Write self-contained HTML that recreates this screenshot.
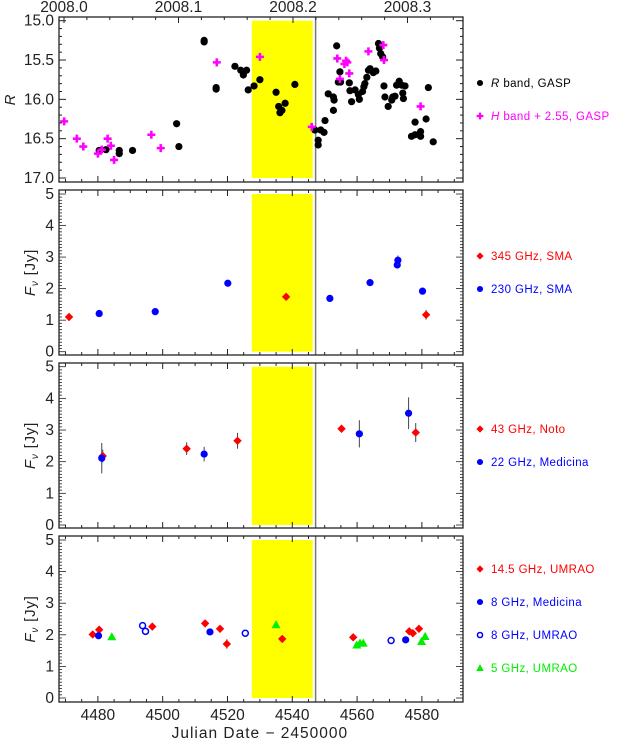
<!DOCTYPE html>
<html><head><meta charset="utf-8"><style>
body{margin:0;background:#fff;}
svg text{font-family:"Liberation Sans",sans-serif;}
</style></head><body>
<svg id="c" xmlns="http://www.w3.org/2000/svg" width="622" height="741" viewBox="0 0 622 741"></svg>
<script>
// ---- data ----
const rBandJD=[4480.4,4482.5,4486.6,4486.6,4490.7,4504.3,4505.0,4512.8,4512.8,4516.5,4516.5,4522.3,4524.1,4524.9,4525.9,4526.4,4528.2,4530.0,4535.0,4535.8,4536.2,4536.8,4537.8,4540.8,4547.0,4548.0,4548.0,4548.8,4549.8,4550.1,4551.1,4552.7,4552.7,4552.9,4553.7,4554.2,4554.7,4554.9,4557.6,4557.8,4558.3,4559.4,4560.4,4560.7,4561.7,4562.1,4562.4,4563.0,4563.5,4564.0,4565.0,4565.8,4566.6,4566.9,4567.3,4567.9,4568.3,4568.6,4569.6,4570.7,4571.0,4571.7,4572.2,4573.0,4573.8,4574.1,4574.3,4574.8,4576.8,4577.9,4577.9,4579.6,4579.6,4581.3,4582.0,4583.5];
const rBandMag=[16.65,16.64,16.69,16.65,16.65,16.31,16.60,15.25,15.27,15.85,15.87,15.58,15.63,15.69,15.63,15.88,15.83,15.75,15.91,16.09,16.17,16.14,16.05,15.81,16.39,16.52,16.58,16.39,16.42,16.27,15.93,15.97,16.14,16.01,15.32,15.78,15.65,15.78,15.79,15.89,16.03,15.88,15.94,16.00,15.90,15.84,15.80,15.72,15.63,15.61,15.66,15.64,15.29,15.35,15.42,15.46,15.83,15.97,16.09,16.01,15.97,15.96,15.82,15.77,15.82,15.92,15.99,15.83,16.47,16.45,16.29,16.41,16.47,16.25,15.85,16.54];
const hBandJD=[4469.6,4473.5,4475.5,4480.0,4481.2,4483.0,4484.0,4485.0,4496.5,4499.4,4516.7,4530.0,4546.0,4553.9,4554.7,4556.1,4556.6,4557.0,4557.6,4563.5,4568.1,4568.3,4579.6];
const hBandMag=[16.28,16.50,16.60,16.69,16.64,16.50,16.59,16.77,16.45,16.62,15.53,15.46,16.35,15.48,15.74,15.55,15.51,15.53,15.67,15.39,15.31,15.50,16.09];
const sma345JD=[4471.1,4538.1,4581.3];
const sma345F=[1.10,1.74,1.17];
const sma345E=[0.12,0.08,0.15];
const sma230JD=[4480.4,4497.7,4520.1,4551.6,4564.0,4572.4,4572.6,4580.2];
const sma230F=[1.21,1.27,2.17,1.69,2.19,2.75,2.90,1.92];
const sma230E=[0.05,0.05,0.08,0.06,0.08,0.1,0.15,0.06];
const noto43JD=[4481.5,4507.4,4523.1,4555.2,4578.1];
const noto43F=[2.18,2.41,2.66,3.04,2.92];
const noto43E=[0.2,0.2,0.25,0.05,0.3];
const med22JD=[4481.2,4512.8,4560.7,4575.9];
const med22F=[2.11,2.24,2.88,3.53];
const med22E=[0.48,0.23,0.43,0.5];
const um145JD=[4478.4,4480.4,4496.8,4513.1,4517.7,4519.8,4536.9,4558.8,4576.1,4577.2,4579.1];
const um145F=[2.01,2.16,2.26,2.36,2.19,1.71,1.87,1.92,2.11,2.05,2.19];
const um145E=[0.05,0.05,0.05,0.05,0.05,0.15,0.1,0.05,0.05,0.05,0.05];
const med8JD=[4480.2,4514.6,4575.0];
const med8F=[1.97,2.09,1.84];
const um8JD=[4493.8,4494.7,4525.5,4570.5];
const um8F=[2.29,2.11,2.05,1.82];
const um5JD=[4484.3,4535.0,4559.9,4560.9,4561.9,4579.9,4581.0];
const um5F=[1.94,2.32,1.68,1.74,1.74,1.79,1.95];
const yearTicks=["2008.0","2008.1","2008.2","2008.3"];
const jdTicks=[4480,4500,4520,4540,4560,4580];
const magTicks=["15.0","15.5","16.0","16.5","17.0"];
const fluxTicks=[0,1,2,3,4,5];
const gapJD=[4527.5,4546.3];
const lineJD=4547.2;

// ---- layout ----
const svg=document.getElementById('c');
const NS='http://www.w3.org/2000/svg';
const X0=59,X1=463,JD0=4468,PXD=3.24;
const xs=j=>X0+(j-JD0)*PXD;
const panels=[
 {top:17,bot:182,v0:15,y0:20.7,v1:17,y1:178},
 {top:190,bot:355,v0:5,y0:194,v1:0,y1:351.7},
 {top:363,bot:528,v0:5,y0:366.7,v1:0,y1:525},
 {top:536,bot:702,v0:5,y0:540,v1:0,y1:698}];
panels.forEach(p=>{p.ys=v=>p.y0+(v-p.v0)*(p.y1-p.y0)/(p.v1-p.v0);});
function el(tag,attrs,parent){const e=document.createElementNS(NS,tag);for(const k in attrs)e.setAttribute(k,attrs[k]);(parent||svg).appendChild(e);return e;}

panels.forEach((p,i)=>{
  const g=el('g',{});
  
  
  const yb=el('rect',{x:xs(gapJD[0]),y:Math.min(p.ys(p.v0),p.ys(p.v1)),width:xs(gapJD[1])-xs(gapJD[0]),height:Math.abs(p.ys(p.v1)-p.ys(p.v0)),fill:'#ffff00'},g);
  
  
  const vl=el('line',{x1:xs(lineJD),x2:xs(lineJD),y1:p.top,y2:p.bot,stroke:'#777','stroke-width':1.5},g);
  
  
  el('rect',{x:X0,y:p.top,width:X1-X0,height:p.bot-p.top,fill:'none',stroke:'#222','stroke-width':1.3},g);
  for(let j=4470;j<=4590;j+=5){
    const maj=(j%20===0);const L=maj?6:3;const x=xs(j);
    el('line',{x1:x,x2:x,y1:p.bot,y2:p.bot-L,stroke:'#222'},g);
    if(i>0) el('line',{x1:x,x2:x,y1:p.top,y2:p.top+L,stroke:'#222'},g);
  }
  if(i===0){
    for(let v=15;v<=17.001;v+=0.1){
      const maj=Math.abs(v*2-Math.round(v*2))<0.01;const L=maj?7:3;const y=p.ys(v);
      el('line',{x1:X0,x2:X0+L,y1:y,y2:y,stroke:'#222'},g);
      el('line',{x1:X1,x2:X1-L,y1:y,y2:y,stroke:'#222'},g);
    }
    magTicks.forEach(t=>{const tx=el('text',{x:X0-5,y:p.ys(+t)+5,'text-anchor':'end','font-size':15.5,fill:'#222'},g);tx.textContent=t;
      });
    for(let k=0;k<=17;k++){const x=64+(k*0.02)*1145;if(x>X1)break;const maj=k%5===0;
      el('line',{x1:x,x2:x,y1:p.top,y2:p.top+(maj?6:3),stroke:'#222'},g);}
    yearTicks.forEach((t,k)=>{const tx=el('text',{x:64+k*114.5,y:12,'text-anchor':'middle','font-size':15.5,fill:'#222'},g);tx.textContent=t;
      });
    const yl=el('text',{x:0,y:0,transform:'translate(15,100) rotate(-90)','text-anchor':'middle','font-size':15,'font-style':'italic',fill:'#222'},g);yl.textContent='R';
    
  } else {
    for(let v=0;v<=50;v++){const maj=v%10===0;const L=maj?7:3;const y=p.ys(v/10);
      el('line',{x1:X0,x2:X0+L,y1:y,y2:y,stroke:'#222','stroke-width':0.8},g);
      el('line',{x1:X1,x2:X1-L,y1:y,y2:y,stroke:'#222','stroke-width':0.8},g);}
    fluxTicks.forEach(t=>{const tx=el('text',{x:X0-5,y:p.ys(t)+5,'text-anchor':'end','font-size':15.5,fill:'#222'},g);tx.textContent=t;
      });
    const yl=el('text',{x:0,y:0,transform:'translate(35,'+((p.top+p.bot)/2)+') rotate(-90)','text-anchor':'middle','font-size':15,fill:'#222','letter-spacing':0.8},g);
    yl.innerHTML='<tspan font-style="italic">F</tspan><tspan font-style="italic" font-size="10" dy="3">ν</tspan><tspan dy="-3"> [Jy]</tspan>';
    
  }
});
jdTicks.forEach(j=>{const tx=el('text',{x:xs(j),y:720,'text-anchor':'middle','font-size':15.5,fill:'#222'});tx.textContent=j;
  });
const xt=el('text',{x:xs(4530),y:738,'text-anchor':'middle','font-size':15.5,fill:'#222','letter-spacing':1});xt.textContent='Julian Date − 2450000';


function marker(g,type,x,y,col,s){
  s=s||1;let m;
  if(type==='circle') m=el('circle',{cx:x,cy:y,r:3.6*s,fill:col},g);
  else if(type==='open') m=el('circle',{cx:x,cy:y,r:3*s,fill:'none',stroke:col,'stroke-width':1.5},g);
  else if(type==='diamond'){const d=4.2*s;m=el('path',{d:`M${x} ${y-d}L${x+d} ${y}L${x} ${y+d}L${x-d} ${y}Z`,fill:col},g);}
  else if(type==='plus'){const d=4*s;m=el('path',{d:`M${x-d} ${y}H${x+d}M${x} ${y-d}V${y+d}`,stroke:col,'stroke-width':2.6*s},g);}
  else {const d=4.5*s;m=el('path',{d:`M${x} ${y-d}L${x+d} ${y+d*0.8}L${x-d} ${y+d*0.8}Z`,fill:col},g);}
  return m;
}
function series(pi,name,jd,val,err,type,col){
  const p=panels[pi];const g=el('g',{});
  
  
  jd.forEach((j,k)=>{const x=xs(j),y=p.ys(val[k]);
    if(err){el('line',{x1:x,x2:x,y1:p.ys(val[k]-err[k]),y2:p.ys(val[k]+err[k]),stroke:'#444','stroke-width':1},g);}
    const m=marker(g,type,x,y,col);
    
    
  });
}
series(0,'r-band-gasp',rBandJD,rBandMag,null,'circle','#000');
series(0,'h-band-gasp',hBandJD,hBandMag,null,'plus','#ff00ff');
series(1,'sma-230ghz',sma230JD,sma230F,sma230E,'circle','#0000ff');
series(1,'sma-345ghz',sma345JD,sma345F,sma345E,'diamond','#ff0000');
series(2,'noto-43ghz',noto43JD,noto43F,noto43E,'diamond','#ff0000');
series(2,'medicina-22ghz',med22JD,med22F,med22E,'circle','#0000ff');
series(3,'umrao-14-5ghz',um145JD,um145F,um145E,'diamond','#ff0000');
series(3,'medicina-8ghz',med8JD,med8F,null,'circle','#0000ff');
series(3,'umrao-8ghz',um8JD,um8F,null,'open','#0000ff');
series(3,'umrao-5ghz',um5JD,um5F,null,'tri','#00ee00');

const legends=[
 [83,'circle','#000','<tspan font-style="italic">R</tspan> band, GASP'],
 [116,'plus','#ff00ff','<tspan font-style="italic">H</tspan> band + 2.55, GASP'],
 [256,'diamond','#ff0000','345 GHz, SMA'],
 [289,'circle','#0000ff','230 GHz, SMA'],
 [429,'diamond','#ff0000','43 GHz, Noto'],
 [462,'circle','#0000ff','22 GHz, Medicina'],
 [569,'diamond','#ff0000','14.5 GHz, UMRAO'],
 [602,'circle','#0000ff','8 GHz, Medicina'],
 [635,'open','#0000ff','8 GHz, UMRAO'],
 [668,'tri','#00ee00','5 GHz, UMRAO']];
legends.forEach(l=>{const g=el('g',{});
  
  
  marker(g,l[1],480,l[0],l[2],0.85);
  const t=el('text',{x:491,y:l[0]+4,'font-size':11.5,fill:l[2],'letter-spacing':0.4},g);t.innerHTML=l[3];});
</script>
</body></html>
